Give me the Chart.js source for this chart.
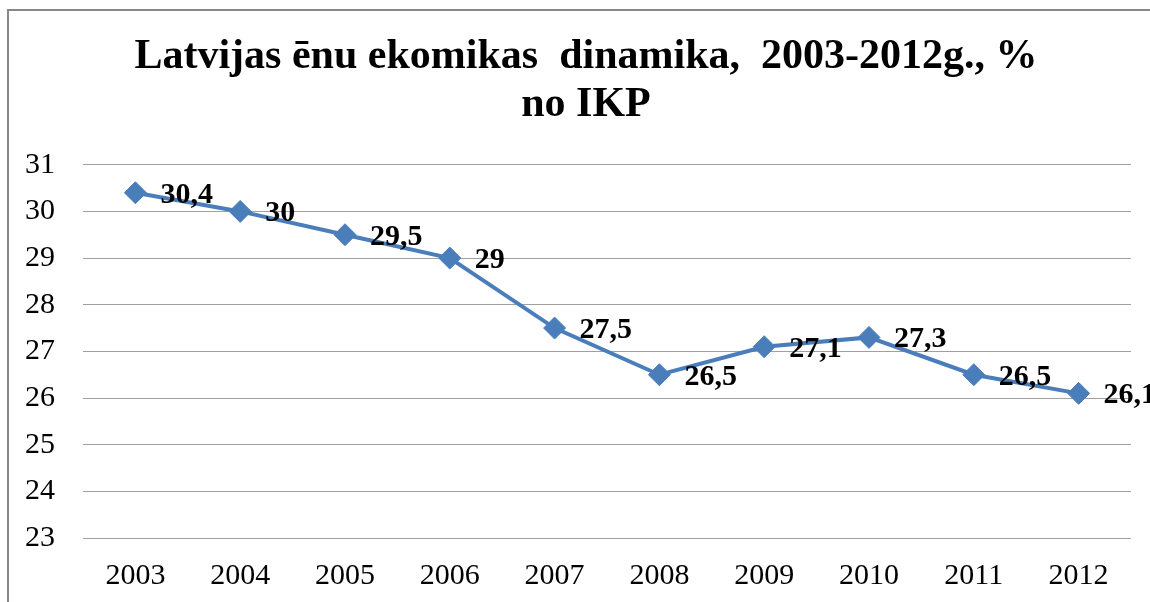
<!DOCTYPE html>
<html>
<head>
<meta charset="utf-8">
<script src="https://cdn.jsdelivr.net/npm/chart.js@4"></script>
<style>
  html, body { margin: 0; padding: 0; background: #fff; overflow: hidden; }
  #frame {
    position: absolute; left: 7px; top: 9px; width: 1200px; height: 700px;
    border-left: 2px solid #878787; border-top: 2px solid #878787;
  }
  #wrap { position: absolute; left: 0; top: 0; width: 1150px; height: 602px; }
</style>
</head>
<body>
<div id="frame"></div>
<div id="wrap"><canvas id="shadowChart" width="1150" height="602"></canvas></div>
<script>
const years = ["2003", "2004", "2005", "2006", "2007", "2008", "2009", "2010", "2011", "2012"];
const shareOfGdp = [30.4, 30, 29.5, 29, 27.5, 26.5, 27.1, 27.3, 26.5, 26.1];
const titleLines = ["Latvijas ēnu ekomikas  dinamika,  2003-2012g., %", "no IKP"];

const serif = "'Liberation Serif', 'Times New Roman', serif";

// values written next to each point, with a decimal comma
const pointLabels = {
  id: "pointLabels",
  afterLayout(chart) {
    // the title in the original sits a little right of the page centre
    if (chart.titleBlock) chart.titleBlock.left += 33;
  },
  afterDatasetsDraw(chart) {
    const ctx = chart.ctx;
    const meta = chart.getDatasetMeta(0);
    ctx.save();
    ctx.font = "bold 30px " + serif;
    ctx.fillStyle = "#000";
    ctx.textAlign = "left";
    ctx.textBaseline = "alphabetic";
    meta.data.forEach((pt, i) => {
      const txt = String(shareOfGdp[i]).replace(".", ",");
      ctx.fillText(txt, pt.x + 25, pt.y + 10);
    });
    ctx.restore();
  }
};

new Chart(document.getElementById("shadowChart"), {
  type: "line",
  data: {
    labels: years,
    datasets: [{
      data: shareOfGdp,
      borderColor: "#4a7ebb",
      backgroundColor: "#4a7ebb",
      borderWidth: 4,
      tension: 0,
      pointStyle: "rectRot",
      pointRadius: 11,
      pointBorderWidth: 1,
      pointBackgroundColor: "#4a7ebb",
      pointBorderColor: "#4a7ebb"
    }]
  },
  options: {
    responsive: false,
    animation: false,
    layout: { padding: { left: 8, right: 19, top: 0, bottom: 0 } },
    plugins: {
      legend: { display: false },
      tooltip: { enabled: false },
      title: {
        display: true,
        text: titleLines,
        color: "#000",
        font: { family: serif, size: 42, weight: "bold", lineHeight: 1.14 },
        padding: { top: 33, bottom: 36 }
      }
    },
    scales: {
      x: {
        offset: true,
        grid: { display: false },
        border: { display: false },
        ticks: { color: "#000", font: { family: serif, size: 30 }, padding: 12, maxRotation: 0 },
        afterFit: s => { s.height = 64; }
      },
      y: {
        min: 23,
        max: 31,
        ticks: { stepSize: 1, color: "#000", font: { family: serif, size: 30 }, padding: 28 },
        grid: { color: "#a0a0a0", lineWidth: 1, drawTicks: false },
        border: { display: false },
        afterFit: s => { s.width = 75; }
      }
    }
  },
  plugins: [pointLabels]
});
</script>
</body>
</html>
